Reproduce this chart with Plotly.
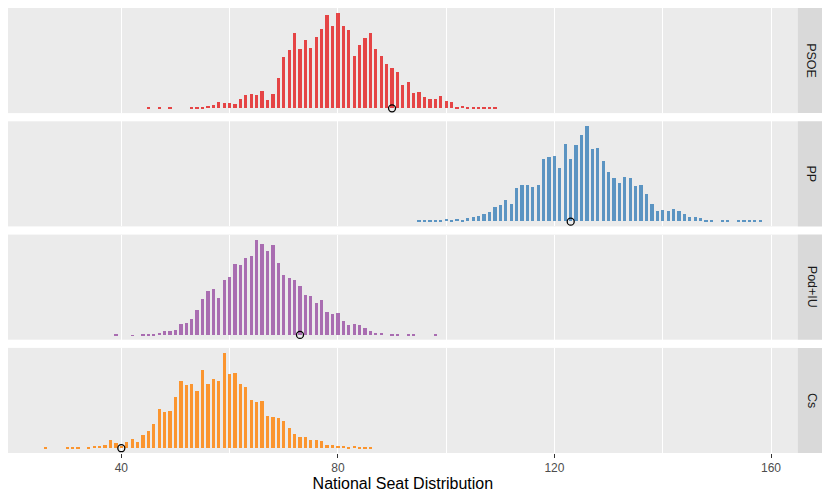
import plotly.graph_objects as go

# ---------------- data ----------------
parties = ["PSOE", "PP", "Pod+IU", "Cs"]
colors = ["#E41A1C", "#377EB8", "#984EA3", "#FF7F00"]
results = [90, 123, 73, 40]          # actual seats (open circles)

psoe_seats = list(range(45, 110))
psoe_counts = [2, 0, 2, 0, 2, 0, 0, 0, 2, 2, 3, 8, 10, 19, 15, 17, 14, 28, 40, 42,
               39, 51, 26, 42, 90, 156, 177, 228, 178, 205, 183, 215, 240, 280, 248,
               288, 247, 237, 158, 192, 212, 228, 178, 159, 134, 123, 109, 70, 79, 47,
               48, 35, 28, 29, 37, 22, 18, 5, 7, 3, 3, 5, 3, 3, 3]

pp_seats = list(range(95, 159))
pp_counts = [2, 2, 2, 4, 5, 8, 4, 7, 4, 10, 13, 15, 23, 28, 42, 50, 65, 52, 100, 111,
             111, 102, 111, 187, 195, 196, 160, 233, 188, 231, 261, 288, 219, 220, 183,
             149, 130, 117, 135, 130, 107, 110, 82, 52, 32, 33, 32, 37, 30, 23, 12, 13,
             9, 3, 2, 0, 4, 4, 0, 3, 2, 2, 2, 2]

pod_seats = list(range(39, 99))
pod_counts = [2, 0, 0, 1, 0, 2, 2, 5, 8, 12, 12, 17, 34, 36, 48, 75, 110, 132, 140, 113,
              165, 176, 213, 210, 231, 237, 287, 274, 253, 270, 216, 180, 171, 165, 149,
              122, 117, 98, 107, 71, 65, 66, 42, 32, 34, 30, 23, 14, 8, 8, 0, 2, 4, 0,
              2, 2, 0, 0, 0, 2]

cs_seats = list(range(26, 87))
cs_counts = [2, 0, 0, 0, 3, 3, 3, 0, 3, 8, 8, 9, 24, 16, 8, 18, 27, 18, 41, 51, 72,
             117, 108, 112, 155, 201, 189, 194, 172, 234, 194, 208, 202, 287, 224, 225,
             193, 185, 146, 138, 141, 98, 94, 90, 83, 62, 42, 34, 34, 26, 26, 21, 9, 9,
             8, 6, 5, 6, 3, 3, 3]

x_ticks = [40, 80, 120, 160]
x_minor = [60, 100, 140]
x_title = "National Seat Distribution"

series = [(psoe_seats, psoe_counts), (pp_seats, pp_counts),
          (pod_seats, pod_counts), (cs_seats, cs_counts)]

# ---------------- layout helpers ----------------
bar_w = 0.6
all_x = [s for xs, _ in series for s in xs]
lo, hi = min(all_x) - bar_w / 2, max(all_x) + bar_w / 2
pad = 0.05 * (hi - lo)
x_range = [lo - pad, hi + pad]

panel_right = 0.9666
ph, gap = 0.2362, 0.0184
domains = [[1 - ph, 1], [1 - 2 * ph - gap, 1 - ph - gap],
           [ph + gap, 2 * ph + gap], [0, ph]]

fig = go.Figure()
layout = dict(
    width=822, height=491,
    margin=dict(l=0, r=5, t=0, b=46, autoexpand=False),
    paper_bgcolor="white", plot_bgcolor="#EBEBEB",
    showlegend=False, bargap=0,
    font=dict(family="Liberation Sans, Arial, sans-serif", color="#4D4D4D"),
    shapes=[], annotations=[],
)

for i, (party, col, res, (xs, ys)) in enumerate(zip(parties, colors, results, series)):
    n = i + 1
    xa = "x" if n == 1 else f"x{n}"
    ya = "y" if n == 1 else f"y{n}"
    fig.add_trace(go.Bar(x=xs, y=ys, width=bar_w, marker=dict(color=col, opacity=0.8,
                         line=dict(width=0)), xaxis=xa, yaxis=ya, hoverinfo="x+y"))
    fig.add_trace(go.Scatter(x=[res], y=[0], mode="markers", xaxis=xa, yaxis=ya,
                             marker=dict(symbol="circle-open", size=7, color="black",
                                         line=dict(width=1.3, color="black")),
                             cliponaxis=False))
    m = max(ys)
    last = n == 4
    layout["xaxis" if n == 1 else f"xaxis{n}"] = dict(
        domain=[0, panel_right], range=x_range, anchor=ya, automargin=False,
        tickmode="array", tickvals=x_ticks,
        showticklabels=last, ticks="outside" if last else "",
        ticklen=4, tickwidth=1.1, tickcolor="#333333",
        tickfont=dict(size=12, color="#4D4D4D"),
        showgrid=True, gridcolor="white", gridwidth=1.3,
        minor=dict(tickmode="array", tickvals=x_minor, showgrid=True,
                   gridcolor="white", gridwidth=0.6),
        zeroline=False, showline=False,
        title=dict(text=x_title if last else "", font=dict(size=16, color="black"),
                   standoff=2),
    )
    layout["yaxis" if n == 1 else f"yaxis{n}"] = dict(
        domain=domains[i], anchor=xa, range=[-0.05 * m, 1.05 * m], automargin=False,
        showticklabels=False, ticks="", showgrid=False, zeroline=False, showline=False,
    )
    layout["shapes"].append(dict(type="rect", xref="paper", yref="paper",
                                 x0=panel_right, x1=1.0, y0=domains[i][0], y1=domains[i][1],
                                 fillcolor="#D9D9D9", line=dict(width=0), layer="below"))
    layout["annotations"].append(dict(text=party, xref="paper", yref="paper",
                                      x=(panel_right + 1) / 2, y=sum(domains[i]) / 2,
                                      showarrow=False, textangle=90,
                                      font=dict(size=12.5, color="#1A1A1A"),
                                      xanchor="center", yanchor="middle"))

fig.update_layout(**layout)
fig.write_html("out.html")
